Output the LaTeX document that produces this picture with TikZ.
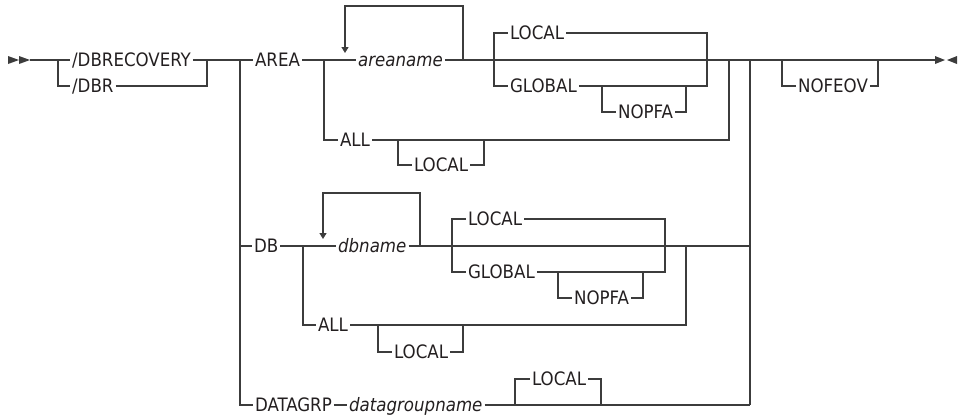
\documentclass[tikz,border=0pt]{standalone}
\usepackage{fontspec}
\setmainfont{DejaVu Sans Condensed}[ItalicFont={DejaVu Sans Condensed Oblique}]
\usetikzlibrary{arrows.meta}
\definecolor{railgray}{HTML}{3C3C3C}
\definecolor{railtext}{HTML}{231F20}

\begin{document}
\begin{tikzpicture}[x=1pt, y=-1pt, line width=1.2pt, railgray,
    kw/.style={anchor=west, inner xsep=1.5pt, inner ysep=0pt, text height=13.4pt,
      text depth=0pt, text=railtext, font=\fontsize{18.5}{21}\selectfont},
    var/.style={kw, font=\fontsize{18.5}{21}\selectfont\itshape},
    repeat/.style={-{Triangle[length=6pt,width=7pt]}}]
\useasboundingbox (0,0) rectangle (962,416);
% main line points
\coordinate (start) at (30,60);
\coordinate (b1) at (58,60);
\coordinate (j1) at (207,60);
\coordinate (b2) at (240,60);
\coordinate (b3) at (324,60);
\coordinate (l1) at (345,60);
\coordinate (l1top) at (345,53);
\coordinate (l2) at (463,60);
\coordinate (l2top) at (463,6);
\coordinate (b4) at (494,60);
\coordinate (b5) at (602,86);
\coordinate (j5) at (686,86);
\coordinate (j4) at (707,60);
\coordinate (j6) at (729,60);
\coordinate (b6) at (398,140);
\coordinate (j7) at (484,140);
\coordinate (j8) at (750,60);
\coordinate (b7) at (782,60);
\coordinate (j9) at (878,60);
\coordinate (finish) at (935,60);
% DB points
\coordinate (b8) at (303,246);
\coordinate (l3) at (323,246);
\coordinate (l3top) at (323,239);
\coordinate (l4) at (420,246);
\coordinate (l4top) at (420,193);
\coordinate (b9) at (452,246);
\coordinate (b10) at (558,272);
\coordinate (j10) at (643,272);
\coordinate (j11) at (665,246);
\coordinate (j12) at (686,246);
\coordinate (j13) at (750,246);
\coordinate (b11) at (378,325);
\coordinate (j14) at (463,325);
\coordinate (b12) at (515,405);
\coordinate (j15) at (601,405);
\coordinate (j16) at (750,405);

\node[kw] (dbrecovery) at (70,60) {/DBRECOVERY};
\node[kw] (dbr) at (70,86) {/DBR};
\node[kw] (area) at (253,60) {AREA};
\node[var] (areaname) at (356,60) {areaname};
\node[kw] (arealocal) at (508,33) {LOCAL};
\node[kw] (areaglobal) at (508,86) {GLOBAL};
\node[kw] (areanopfa) at (616,112) {NOPFA};
\node[kw] (areaall) at (338,140) {ALL};
\node[kw] (areaalllocal) at (412,165) {LOCAL};
\node[kw] (nofeov) at (796,86) {NOFEOV};
\node[kw] (db) at (252,246) {DB};
\node[var] (dbname) at (336,246) {dbname};
\node[kw] (dblocal) at (466,219) {LOCAL};
\node[kw] (dbglobal) at (466,272) {GLOBAL};
\node[kw] (dbnopfa) at (572,298) {NOPFA};
\node[kw] (dball) at (316,325) {ALL};
\node[kw] (dballlocal) at (392,352) {LOCAL};
\node[kw] (datagrp) at (253,405) {DATAGRP};
\node[var] (datagroupname) at (347,405) {datagroupname};
\node[kw] (dglocal) at (530,379) {LOCAL};

% start and end marks
\fill (8,56) -- (19,60) -- (8,64) -- cycle;
\fill (19,56) -- (30,60) -- (19,64) -- cycle;
\fill (935,56) -- (945,60) -- (935,64) -- cycle;
\fill (957,56) -- (947,60) -- (957,64) -- cycle;

% /DBRECOVERY or /DBR
\draw (start) -- (b1) |- (dbrecovery.west);
\draw (b1) |- (dbr.west);
\draw (dbr.east) -| (j1);
\draw (dbrecovery.east) -- (j1) -- (b2) -- (area.west);
% AREA
\draw (area.east) -- (b3) -- (l1) -- (areaname.west);
\draw (areaname.east) -- (l2) -- (b4) -- (j4) -- (j6) -- (j8) -- (b7) -- (j9) -- (finish);
\draw[repeat] (l2) -- (l2top) -| (l1top);
\draw (b4) |- (arealocal.west);
\draw (b4) |- (areaglobal.west);
\draw (arealocal.east) -| (j4);
\draw (areaglobal.east) -| (j4);
\draw (b5) |- (areanopfa.west);
\draw (areanopfa.east) -| (j5);
\draw (b3) |- (areaall.west);
\draw (areaall.east) -| (j6);
\draw (b6) |- (areaalllocal.west);
\draw (areaalllocal.east) -| (j7);
% NOFEOV
\draw (b7) |- (nofeov.west);
\draw (nofeov.east) -| (j9);
% DB
\draw (b2) |- (db.west);
\draw (db.east) -- (b8) -- (l3) -- (dbname.west);
\draw (dbname.east) -- (l4) -- (b9) -- (j11) -- (j12) -- (j13);
\draw[repeat] (l4) -- (l4top) -| (l3top);
\draw (b9) |- (dblocal.west);
\draw (b9) |- (dbglobal.west);
\draw (dblocal.east) -| (j11);
\draw (dbglobal.east) -| (j11);
\draw (b10) |- (dbnopfa.west);
\draw (dbnopfa.east) -| (j10);
\draw (b8) |- (dball.west);
\draw (dball.east) -| (j12);
\draw (b11) |- (dballlocal.west);
\draw (dballlocal.east) -| (j14);
% DATAGRP
\draw (b2) |- (datagrp.west);
\draw (datagrp.east) -- (datagroupname.west);
\draw (datagroupname.east) -- (b12) -- (j15) -- (j16);
\draw (b12) |- (dglocal.west);
\draw (dglocal.east) -| (j15);
\draw (j8) -- (j16);
\end{tikzpicture}
\end{document}
